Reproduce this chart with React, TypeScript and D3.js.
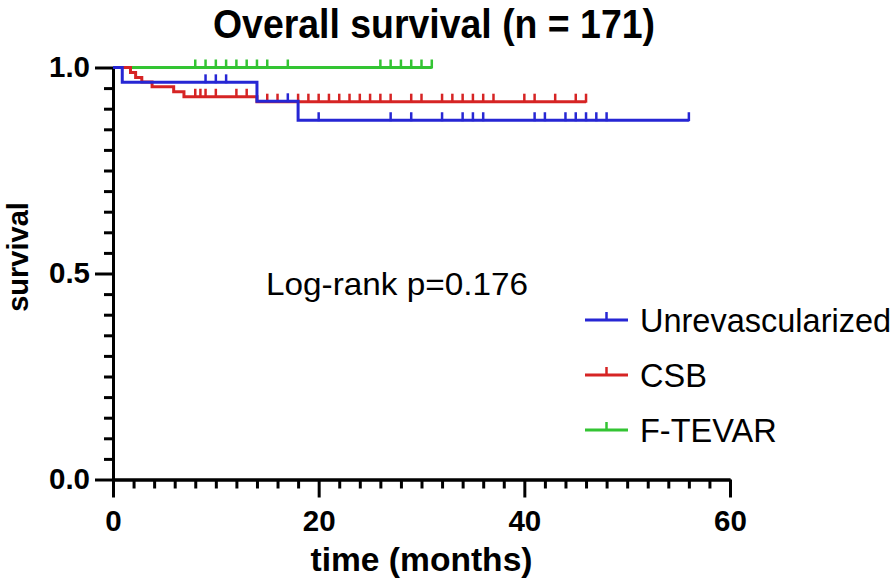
import * as d3 from "d3";
import * as React from "react";

// Kaplan-Meier steps: [time, survival after drop]
const blueDrops: [number, number][] = [
  [0.9, 0.964],
  [14, 0.918],
  [18, 0.872],
];
const blueEnd = 56;
const blueCensor = [9, 10, 11, 17, 20, 27, 29, 32, 34, 35, 36, 41, 42, 44, 45, 46, 47, 48, 56];

const redDrops: [number, number][] = [
  [1.7, 0.988],
  [2.2, 0.976],
  [2.8, 0.965],
  [3.8, 0.953],
  [5.9, 0.941],
  [6.9, 0.929],
  [14, 0.917],
];
const redEnd = 46;
const redCensor = [
  8, 8.5, 9, 10, 12, 13, 15, 16, 18, 19, 20, 21, 22, 23, 24, 25, 26, 27, 29, 30, 32, 33, 34, 35,
  36, 37, 40, 41, 43, 45, 46,
];

const greenDrops: [number, number][] = [];
const greenEnd = 31;
const greenCensor = [8, 9, 10, 11, 12, 13, 14, 15, 17, 26, 27, 28, 29, 30, 31];

const xMajor = [0, 20, 40, 60];
const yMajor = [0, 0.5, 1];

interface Group {
  name: string;
  color: string;
  drops: [number, number][];
  end: number;
  censor: number[];
}

const groups: Group[] = [
  { name: "Unrevascularized", color: "#2626d4", drops: blueDrops, end: blueEnd, censor: blueCensor },
  { name: "CSB", color: "#d62424", drops: redDrops, end: redEnd, censor: redCensor },
  { name: "F-TEVAR", color: "#33c433", drops: greenDrops, end: greenEnd, censor: greenCensor },
];

const FONT = "'Liberation Sans', Arial, Helvetica, sans-serif";

function survivalAt(g: Group, t: number) {
  let s = 1;
  for (const [dt, ds] of g.drops) if (dt <= t) s = ds;
  return s;
}

export default function App() {
  const ref = React.useRef<SVGSVGElement>(null);

  React.useEffect(() => {
    const svg = d3.select(ref.current);
    svg.selectAll("*").remove();

    const x = d3.scaleLinear().domain([0, 60]).range([113, 730]);
    const y = d3.scaleLinear().domain([0, 1]).range([479.5, 67.5]);

    const axisStyle = (g: d3.Selection<SVGGElement, unknown, null, undefined>) => {
      g.selectAll("path, line").attr("stroke", "#000").attr("stroke-width", 3);
      g.selectAll("text")
        .attr("font-family", FONT)
        .attr("font-weight", "bold")
        .attr("font-size", 29.5)
        .attr("fill", "#000");
    };

    // minor ticks (every 2 months / 0.05)
    svg
      .append("g")
      .attr("transform", `translate(0,${y(0)})`)
      .call(
        d3.axisBottom(x).tickValues(d3.range(0, 61, 2).filter((v) => v % 20 !== 0)).tickSize(9).tickSizeOuter(0).tickFormat(() => "")
      )
      .call(axisStyle);
    svg
      .append("g")
      .attr("transform", `translate(0,${y(0)})`)
      .call(d3.axisBottom(x).tickValues(xMajor).tickSize(18).tickSizeOuter(0).tickPadding(13))
      .call(axisStyle);

    svg
      .append("g")
      .attr("transform", `translate(${x(0)},0)`)
      .call(
        d3.axisLeft(y).tickValues(d3.range(0, 21).map((i) => i / 20).filter((_v, i) => i % 10 !== 0)).tickSize(9).tickSizeOuter(0).tickFormat(() => "")
      )
      .call(axisStyle);
    svg
      .append("g")
      .attr("transform", `translate(${x(0)},0)`)
      .call(d3.axisLeft(y).tickValues(yMajor).tickSize(18).tickSizeOuter(0).tickPadding(5).tickFormat(d3.format(".1f")))
      .call(axisStyle);

    // curves: green under red under blue
    const drawOrder = [groups[2], groups[1], groups[0]];
    const line = d3
      .line<[number, number]>()
      .x((d) => x(d[0]))
      .y((d) => y(d[1]))
      .curve(d3.curveStepAfter);

    for (const g of drawOrder) {
      const pts: [number, number][] = [[0, 1], ...g.drops, [g.end, survivalAt(g, g.end)]];
      svg
        .append("path")
        .attr("d", line(pts))
        .attr("fill", "none")
        .attr("stroke", g.color)
        .attr("stroke-width", 3);
      svg
        .append("g")
        .selectAll("line")
        .data(g.censor)
        .join("line")
        .attr("x1", (d) => x(d))
        .attr("x2", (d) => x(d))
        .attr("y1", (d) => y(survivalAt(g, d)) + 1)
        .attr("y2", (d) => y(survivalAt(g, d)) - 8)
        .attr("stroke", g.color)
        .attr("stroke-width", 2.5);
    }

    // title
    svg
      .append("text")
      .attr("x", 434)
      .attr("y", 38)
      .attr("text-anchor", "middle")
      .attr("font-family", FONT)
      .attr("font-weight", "bold")
      .attr("font-size", 40)
      .attr("textLength", 442)
      .attr("lengthAdjust", "spacingAndGlyphs")
      .text("Overall survival (n = 171)");

    // axis titles
    svg
      .append("text")
      .attr("x", (x(0) + x(60)) / 2)
      .attr("y", 571)
      .attr("text-anchor", "middle")
      .attr("font-family", FONT)
      .attr("font-weight", "bold")
      .attr("font-size", 33)
      .attr("textLength", 222)
      .attr("lengthAdjust", "spacingAndGlyphs")
      .text("time (months)");

    svg
      .append("text")
      .attr("transform", `translate(28,257) rotate(-90)`)
      .attr("text-anchor", "middle")
      .attr("font-family", FONT)
      .attr("font-weight", "bold")
      .attr("font-size", 29)
      .text("survival");

    // annotation
    svg
      .append("text")
      .attr("x", 266)
      .attr("y", 295)
      .attr("font-family", FONT)
      .attr("font-size", 32)
      .attr("textLength", 262)
      .attr("lengthAdjust", "spacingAndGlyphs")
      .text("Log-rank p=0.176");

    // legend
    const legend = svg
      .append("g")
      .selectAll("g")
      .data(groups)
      .join("g")
      .attr("transform", (_d, i) => `translate(0,${320 + i * 55})`);
    legend
      .append("line")
      .attr("x1", 585)
      .attr("x2", 628)
      .attr("stroke", (d) => d.color)
      .attr("stroke-width", 3);
    legend
      .append("line")
      .attr("x1", 606.5)
      .attr("x2", 606.5)
      .attr("y1", 0)
      .attr("y2", -8)
      .attr("stroke", (d) => d.color)
      .attr("stroke-width", 2.5);
    legend
      .append("text")
      .attr("x", 640)
      .attr("y", 12)
      .attr("font-family", FONT)
      .attr("font-size", 32.5)
      .text((d) => d.name);
  }, []);

  return (
    <svg
      ref={ref}
      width={896}
      height={583}
      style={{ position: "absolute", left: 0, top: 0, background: "#fff" }}
    />
  );
}
